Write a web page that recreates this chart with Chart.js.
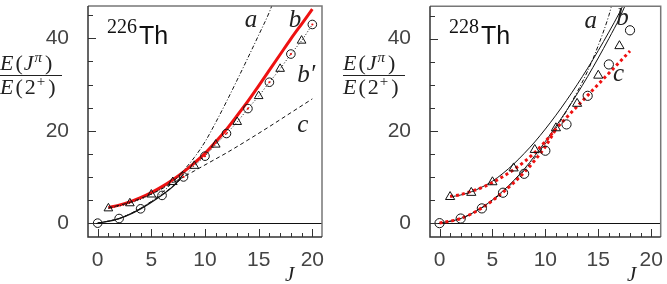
<!DOCTYPE html>
<html>
<head>
<meta charset="utf-8">
<script src="https://cdn.jsdelivr.net/npm/chart.js@4.4.1/dist/chart.umd.min.js"></script>
<style>
  body { margin: 0; background: #fff; width: 667px; height: 284px; overflow: hidden; position: relative; }
  canvas { position: absolute; top: 0; }
  #left { left: 0; }
  #right { left: 335px; }
</style>
</head>
<body>
<canvas id="left" width="335" height="284"></canvas>
<canvas id="right" width="332" height="284"></canvas>
<script>
// axis ticks
const xTicks = [0, 5, 10, 15, 20];
const yTicks = [0, 20, 40];
const xMinor = [1, 2, 3, 4, 6, 7, 8, 9, 11, 12, 13, 14, 16, 17, 18, 19];
const yMinor = [5, 10, 15, 25, 30, 35, 45];

// 226Th measured levels, E(J)/E(2+)
const evenJ226 = [0, 2, 4, 6, 8, 10, 12, 14, 16, 18, 20];
const even226 = [0, 1.0, 3.1, 6.0, 10.0, 14.5, 19.4, 24.8, 30.5, 36.6, 43.0];
const oddJ226 = [1, 3, 5, 7, 9, 11, 13, 15, 17, 19];
const odd226 = [3.2, 4.3, 6.2, 8.9, 12.4, 17.0, 21.9, 27.5, 33.4, 39.5];

// 226Th model curves
const aJ226 = [0, 2, 4, 6, 8, 9, 10, 11, 12, 13, 14, 15, 16, 16.3];
const a226 = [0, 1.0, 3.2, 6.6, 11.4, 14.2, 17.6, 21.8, 26.3, 31.0, 35.8, 40.7, 45.7, 47.5];
const bJ226 = [1, 2, 3, 4, 5, 6, 7, 8, 9, 10, 11, 12, 13, 14, 15, 16, 17, 18, 19, 20];
const b226 = [3.4, 3.9, 4.6, 5.5, 6.6, 7.9, 9.4, 11.1, 13.0, 15.1, 17.6, 20.3, 23.3, 26.4, 29.7, 33.1, 36.5, 39.9, 43.1, 46.3];
const bEvenJ226 = [0, 2, 4, 6, 7, 8];
const bEven226 = [0, 1.0, 3.1, 6.1, 7.9, 10.6];
const bpJ226 = [1, 3, 5, 7, 8, 9, 10, 11, 12, 13, 14, 15, 16, 17, 18, 19, 20];
const bp226 = [3.2, 4.3, 6.2, 8.9, 10.0, 12.4, 14.5, 17.0, 19.4, 21.9, 24.8, 27.5, 30.5, 33.4, 36.6, 39.5, 43.0];
const bpDotJ226 = [8, 10, 12, 14, 16, 18, 20];
const bpDot226 = [10.0, 14.5, 19.4, 24.8, 30.5, 36.6, 43.0];
const cEvenJ226 = [0, 2, 4, 6, 7, 8];
const cEven226 = [0, 1.0, 3.2, 6.2, 8.0, 10.0];
const cOddJ226 = [1, 3, 5, 7, 8, 9, 10, 11, 12, 14, 16, 18, 20];
const cOdd226 = [3.3, 4.5, 6.3, 8.7, 10.0, 11.3, 12.6, 13.9, 15.2, 18.0, 20.9, 23.9, 26.9];

// 228Th measured levels
const evenJ228 = [0, 2, 4, 6, 8, 10, 12, 14, 16, 18];
const even228 = [0, 1.0, 3.2, 6.6, 10.7, 15.7, 21.4, 27.6, 34.4, 41.8];
const oddJ228 = [1, 3, 5, 7, 9, 11, 13, 15, 17];
const odd228 = [5.7, 6.6, 8.9, 11.9, 15.9, 20.6, 25.9, 32.0, 38.4];

// 228Th model curves
const aJ228 = [0, 2, 4, 6, 8, 10, 11, 12, 13, 14, 15, 16, 16.3];
const a228 = [0, 1.0, 3.3, 6.8, 11.4, 17.2, 20.6, 24.3, 28.4, 33.0, 38.5, 45.0, 47.5];
const bOddJ228 = [1, 2, 3, 4, 5, 6, 7, 8, 9, 10, 11, 12, 13, 14, 15, 16, 17, 17.4];
const bOdd228 = [5.7, 6.1, 6.8, 7.8, 9.1, 10.8, 12.8, 15.1, 17.6, 20.4, 23.4, 26.6, 30.0, 33.6, 37.4, 41.4, 45.6, 47.5];
const bEvenJ228 = [0, 2, 4, 6, 8, 9, 10, 11, 12, 13, 14, 15, 16, 17, 17.6];
const bEven228 = [0, 1.0, 3.4, 7.0, 11.7, 14.6, 17.7, 21.0, 24.4, 28.0, 31.8, 35.8, 40.0, 44.4, 47.5];
const cOddJ228 = [1, 2, 3, 4, 5, 6, 7, 8, 9, 10, 11, 12, 13, 14, 15, 16, 17, 18];
const cOdd228 = [5.8, 6.2, 6.9, 7.7, 8.8, 10.1, 11.6, 13.3, 15.3, 17.7, 20.4, 22.9, 25.3, 27.7, 30.1, 32.5, 34.9, 37.3];
const cEvenJ228 = [0, 2, 4, 6, 8, 9, 10, 11];
const cEven228 = [0, 1.0, 3.3, 6.7, 11.0, 13.6, 16.6, 20.4];

const RED = '#ee1111';
const INK = '#111';

function pts(js, vs) {
    return js.map((j, i) => ({ x: j, y: vs[i] }));
}

function curve(js, vs, color, width, dash) {
    return {
        data: pts(js, vs),
        showLine: true,
        pointRadius: 0,
        borderColor: color,
        borderWidth: width,
        borderDash: dash || [],
        tension: 0.4,
        cubicInterpolationMode: 'monotone',
        fill: false
    };
}

function markers(js, vs, style, r) {
    return {
        data: pts(js, vs),
        showLine: false,
        pointStyle: style,
        pointRadius: r,
        borderColor: INK,
        borderWidth: 1,
        backgroundColor: 'rgba(255,255,255,0)'
    };
}

function put(ctx, s, x, y, font) {
    ctx.font = font;
    ctx.fillText(s, x, y);
    return x + ctx.measureText(s).width;
}

function drawFraction(ctx, x0, lineY) {
    const it = 'italic 22px "Liberation Serif"';
    const up = '22px "Liberation Serif"';
    const sup = 'italic 15px "Liberation Serif"';
    const supUp = '15px "Liberation Serif"';
    ctx.fillStyle = '#222';
    ctx.textBaseline = 'alphabetic';
    ctx.textAlign = 'left';
    let nb = lineY - 5;
    let x = put(ctx, 'E', x0, nb, it) + 2;
    x = put(ctx, '(', x, nb, up) + 1;
    x = put(ctx, 'J', x, nb, it) + 1;
    x = put(ctx, 'π', x, nb - 8, sup) + 3;
    put(ctx, ')', x, nb, up);
    let db = lineY + 19;
    x = put(ctx, 'E', x0, db, it) + 2;
    x = put(ctx, '(', x, db, up) + 2;
    x = put(ctx, '2', x, db, up) + 1;
    x = put(ctx, '+', x, db - 8, supUp) + 3;
    put(ctx, ')', x, db, up);
    ctx.strokeStyle = '#222';
    ctx.lineWidth = 1;
    ctx.beginPath();
    ctx.moveTo(x0, lineY + 0.5);
    ctx.lineTo(x0 + 62, lineY + 0.5);
    ctx.stroke();
}

const decor = {
    id: 'decor',
    beforeDatasetsDraw(chart) {
        const { ctx, chartArea: a, scales: { y } } = chart;
        const y0 = Math.round(y.getPixelForValue(0)) + 0.5;
        ctx.save();
        ctx.strokeStyle = INK;
        ctx.lineWidth = 1;
        ctx.beginPath();
        ctx.moveTo(a.left, y0);
        ctx.lineTo(a.right, y0);
        ctx.stroke();
        ctx.restore();
    },
    afterDraw(chart, args, o) {
        const { ctx, chartArea: a, scales: { x, y } } = chart;
        ctx.save();
        // ticks pointing inwards
        ctx.strokeStyle = '#333';
        ctx.lineWidth = 1;
        ctx.beginPath();
        xTicks.concat(xMinor).forEach(v => {
            const px = Math.round(x.getPixelForValue(v)) + 0.5;
            const len = xTicks.includes(v) ? 8 : 4;
            ctx.moveTo(px, a.bottom);
            ctx.lineTo(px, a.bottom - len);
        });
        yTicks.concat(yMinor).forEach(v => {
            const py = Math.round(y.getPixelForValue(v)) + 0.5;
            const len = yTicks.includes(v) ? 8 : 5;
            ctx.moveTo(a.left, py);
            ctx.lineTo(a.left + len, py);
        });
        ctx.stroke();
        // frame: darker on the axis sides
        ctx.lineWidth = 1.5;
        ctx.strokeStyle = '#777';
        ctx.beginPath();
        ctx.moveTo(a.left, a.top);
        ctx.lineTo(a.right, a.top);
        ctx.lineTo(a.right, a.bottom);
        ctx.stroke();
        ctx.strokeStyle = '#333';
        ctx.beginPath();
        ctx.moveTo(a.left, a.top);
        ctx.lineTo(a.left, a.bottom);
        ctx.lineTo(a.right, a.bottom);
        ctx.stroke();

        // nucleus label
        ctx.fillStyle = '#111';
        ctx.textAlign = 'left';
        ctx.textBaseline = 'alphabetic';
        ctx.font = '20px "Liberation Serif"';
        ctx.fillText(o.mass, a.left + 19, a.top + 27);
        ctx.font = '25px "Liberation Sans"';
        ctx.fillText('Th', a.left + 51, a.top + 38);

        // curve labels
        ctx.font = 'italic 25px "Liberation Serif"';
        ctx.fillStyle = '#222';
        o.labels.forEach(l => {
            ctx.fillText(l.text, x.getPixelForValue(l.j), y.getPixelForValue(l.v));
        });

        // axis titles
        ctx.font = 'italic 21px "Liberation Serif"';
        ctx.fillText('J', a.left + 197, 281);
        drawFraction(ctx, o.titleX, 75);
        ctx.restore();
    }
};

function makeChart(id, datasets, deco, yWidth, padRight) {
    new Chart(document.getElementById(id), {
        type: 'scatter',
        data: { datasets },
        options: {
            responsive: false,
            animation: false,
            layout: { padding: { left: 0, right: padRight, top: 4, bottom: 0 } },
            plugins: {
                legend: { display: false },
                tooltip: { enabled: false },
                decor: deco
            },
            scales: {
                x: {
                    type: 'linear',
                    min: -0.9,
                    max: 20.9,
                    afterBuildTicks: s => { s.ticks = xTicks.map(v => ({ value: v })); },
                    afterFit: s => { s.height = 47; s.paddingLeft = 0; s.paddingRight = 0; },
                    grid: { display: false },
                    border: { display: false },
                    ticks: { color: '#444', padding: 3, maxRotation: 0, font: { family: 'Liberation Sans', size: 21 } }
                },
                y: {
                    type: 'linear',
                    min: -3,
                    max: 47,
                    afterBuildTicks: s => { s.ticks = yTicks.map(v => ({ value: v })); },
                    afterFit: s => { s.width = yWidth; s.paddingTop = 0; s.paddingBottom = 0; },
                    grid: { display: false },
                    border: { display: false },
                    ticks: { color: '#444', padding: 11, font: { family: 'Liberation Sans', size: 21 } }
                }
            }
        },
        plugins: [decor]
    });
}

makeChart('left', [
    markers(evenJ226, even226, 'circle', 4.3),
    markers(oddJ226, odd226, 'triangle', 5),
    { data: pts(bpDotJ226, bpDot226), showLine: false, pointRadius: 1.1, borderWidth: 0, backgroundColor: RED },
    curve(bpJ226, bp226, INK, 1, [1, 2]),
    curve(aJ226, a226, INK, 1, [4, 2, 1, 2]),
    curve(cEvenJ226, cEven226, INK, 1, [4, 3]),
    curve(cOddJ226, cOdd226, INK, 1, [4, 3]),
    curve(bEvenJ226, bEven226, INK, 1.3),
    curve(bJ226, b226, RED, 3)
], {
    mass: '226',
    titleX: 0,
    labels: [
        { text: 'a', j: 13.7, v: 42.4 },
        { text: 'b', j: 17.8, v: 42.4 },
        { text: 'b\u2032', j: 18.6, v: 30.6 },
        { text: 'c', j: 18.6, v: 19.7 }
    ]
}, 88, 13);

makeChart('right', [
    markers(evenJ228, even228, 'circle', 4.6),
    markers(oddJ228, odd228, 'triangle', 5.3),
    curve(cOddJ228, cOdd228, RED, 3, [3, 3]),
    curve(cEvenJ228, cEven228, RED, 3, [3, 3]),
    curve(aJ228, a228, INK, 1, [4, 2, 1, 2]),
    curve(bOddJ228, bOdd228, INK, 1),
    curve(bEvenJ228, bEven228, INK, 1)
], {
    mass: '228',
    titleX: 8,
    labels: [
        { text: 'a', j: 13.7, v: 42.4 },
        { text: 'b', j: 16.7, v: 42.9 },
        { text: 'c', j: 16.4, v: 30.9 }
    ]
}, 95, 4);
</script>
</body>
</html>
